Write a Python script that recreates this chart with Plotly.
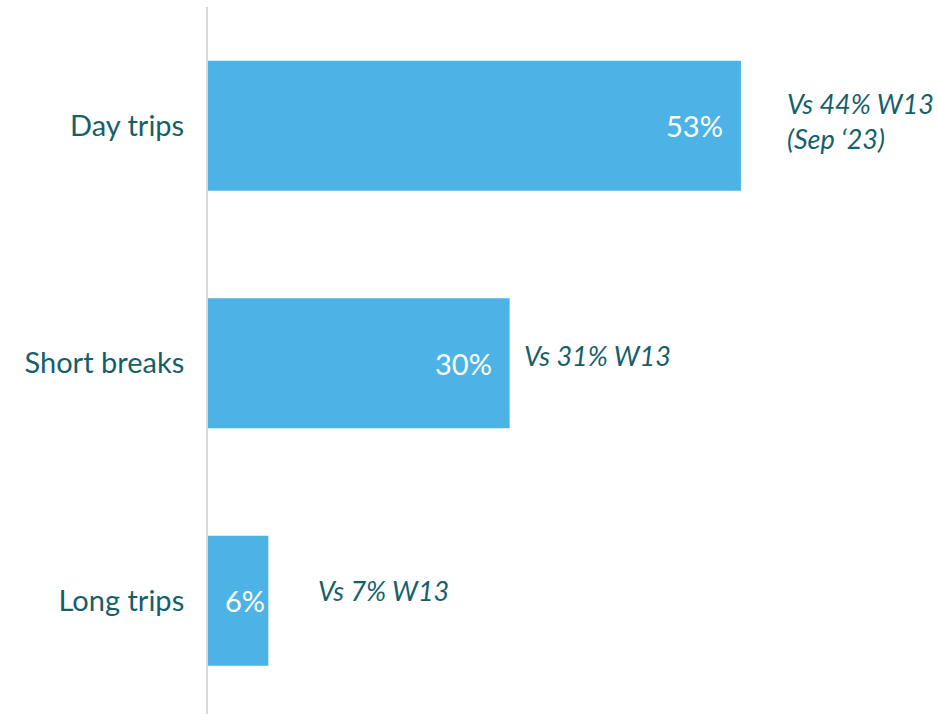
import plotly.graph_objects as go

categories = ["Day trips", "Short breaks", "Long trips"]
values = [53, 30, 6]
value_labels = ["53%", "30%", "6%"]
comparison_labels = ["Vs 44% W13<br>(Sep ‘23)", "Vs 31% W13", "Vs 7% W13"]

# layout/style helpers (not data)
value_label_shift = [-16, -16, -1]
comparison_offset = [4.4, 1.2, 4.7]
comparison_yshift = [5, 8, 10]

TEAL = "#155F6B"
BAR = "#4DB3E6"
FONT = "Lato"

fig = go.Figure()
fig.add_trace(go.Bar(
    y=categories, x=values, orientation="h",
    marker=dict(color=BAR, line=dict(width=0)),
    width=0.547, hoverinfo="skip",
))

annotations = []
for c, v, t, s in zip(categories, values, value_labels, value_label_shift):
    annotations.append(dict(x=v, y=c, xref="x", yref="y", text=t, showarrow=False,
                            xanchor="right", yanchor="middle", xshift=s,
                            font=dict(family=FONT, size=29, color="white")))
for c, v, t, o, ys in zip(categories, values, comparison_labels, comparison_offset, comparison_yshift):
    annotations.append(dict(x=v + o, y=c, xref="x", yref="y", text=t, showarrow=False,
                            xanchor="left", yanchor="middle", yshift=ys, align="left",
                            font=dict(family=FONT, size=27, color=TEAL, style="italic")))

fig.update_layout(
    width=938, height=714,
    margin=dict(l=208, r=0, t=7, b=0),
    paper_bgcolor="white", plot_bgcolor="white",
    showlegend=False,
    annotations=annotations,
    xaxis=dict(range=[0, 72.6], visible=False, fixedrange=True),
    yaxis=dict(
        categoryorder="array", categoryarray=categories,
        range=[2.477, -0.5],
        showline=True, linecolor="#D9D9D9", linewidth=2,
        showgrid=False, zeroline=False,
        ticks="", ticklabelstandoff=16,
        tickfont=dict(family=FONT, size=29, color=TEAL),
    ),
)

fig.write_html("out.html")
